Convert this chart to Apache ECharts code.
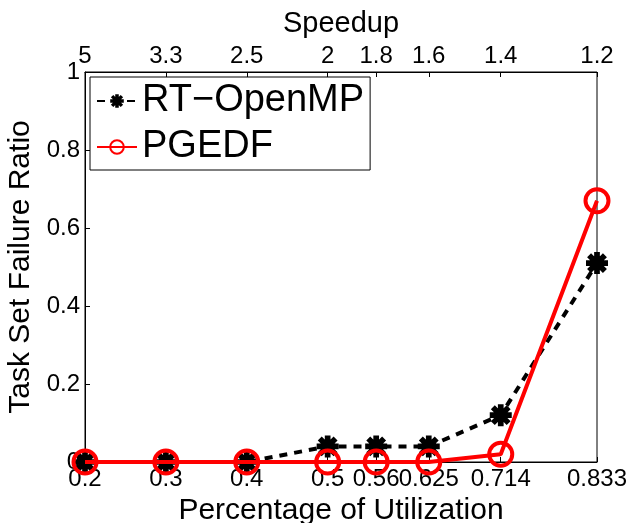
<!DOCTYPE html>
<html>
<head>
<meta charset="utf-8">
<script src="https://cdn.jsdelivr.net/npm/echarts@6/dist/echarts.min.js"></script>
<style>html,body{margin:0;padding:0;background:#fff}#c{width:629px;height:523px}</style>
</head>
<body>
<div id="c"></div>
<script>
const utilization = [0.2, 0.3, 0.4, 0.5, 0.56, 0.625, 0.714, 0.833];
const utilLabels = ['0.2', '0.3', '0.4', '0.5', '0.56', '0.625', '0.714', '0.833'];
const speedupLabels = ['5', '3.3', '2.5', '2', '1.8', '1.6', '1.4', '1.2'];
const rtOpenMP = [0, 0, 0, 0.04, 0.04, 0.04, 0.12, 0.51];
const pgedf = [0, 0, 0, 0, 0, 0, 0.02, 0.67];

const asterisk = 'path://M0 37L100 37L100 63L0 63Z M37 0L63 0L63 100L37 100Z M23 5L95 77L77 95L5 23Z M77 5L95 23L23 95L5 77Z';
const font = 'Liberation Sans';

const chart = echarts.init(document.getElementById('c'));
chart.setOption({
  animation: false,
  textStyle: {fontFamily: font, color: '#000'},
  grid: {left: 85, right: 32, top: 72, bottom: 61, outerBoundsMode: 'none', containLabel: false,
    show: true, borderColor: '#000', borderWidth: 1, backgroundColor: 'transparent'},
  legend: {
    orient: 'vertical', left: 90, top: 77,
    backgroundColor: '#fff', borderColor: '#000', borderWidth: 1,
    padding: [5, 6, 4, 6], itemGap: 8, itemWidth: 40, itemHeight: 17,
    textStyle: {fontFamily: font, fontSize: 38, color: '#000'},
    data: ['RT\u2212OpenMP', 'PGEDF']
  },
  xAxis: [{
    type: 'value', min: 0.2, max: 0.833, position: 'bottom',
    name: 'Percentage of Utilization', nameLocation: 'middle', nameGap: 24,
    nameTextStyle: {fontSize: 30, color: '#000', fontFamily: font},
    axisLine: {lineStyle: {color: '#000', width: 1}},
    axisTick: {inside: true, length: 5, lineStyle: {color: '#000'}, customValues: utilization},
    axisLabel: {customValues: utilization, fontSize: 24, color: '#000', margin: 5,
      formatter: v => utilLabels[utilization.indexOf(v)]},
    splitLine: {show: false}
  }, {
    type: 'value', min: 0.2, max: 0.833, position: 'top',
    name: 'Speedup', nameLocation: 'middle', nameGap: 34,
    nameTextStyle: {fontSize: 29, color: '#000', fontFamily: font},
    axisLine: {lineStyle: {color: '#000', width: 1}},
    axisTick: {inside: true, length: 5, lineStyle: {color: '#000'}, customValues: utilization},
    axisLabel: {customValues: utilization, fontSize: 24, color: '#000', margin: 4,
      formatter: v => speedupLabels[utilization.indexOf(v)]},
    splitLine: {show: false}
  }],
  yAxis: {
    type: 'value', min: 0, max: 1, interval: 0.2,
    name: 'Task Set Failure Ratio', nameLocation: 'middle', nameGap: 43,
    nameTextStyle: {fontSize: 30, color: '#000', fontFamily: font},
    axisLine: {show: true, lineStyle: {color: '#000', width: 1}},
    axisTick: {show: true, inside: true, length: 5, lineStyle: {color: '#000'}},
    axisLabel: {fontSize: 24, color: '#000', margin: 5, formatter: v => String(+v.toFixed(1))},
    splitLine: {show: false}
  },
  series: [{
    name: 'RT\u2212OpenMP', type: 'line', xAxisIndex: 0,
    data: utilization.map((u, i) => [u, rtOpenMP[i]]),
    symbol: asterisk, symbolSize: 22,
    itemStyle: {color: '#000'},
    lineStyle: {color: '#000', width: 4, type: [8, 7]},
    z: 2
  }, {
    name: 'PGEDF', type: 'line', xAxisIndex: 0,
    data: utilization.map((u, i) => [u, pgedf[i]]),
    symbol: 'circle', symbolSize: 23,
    itemStyle: {color: 'rgba(0,0,0,0)', borderColor: '#ff0000', borderWidth: 4},
    lineStyle: {color: '#ff0000', width: 4},
    z: 3
  }]
});
</script>
</body>
</html>
